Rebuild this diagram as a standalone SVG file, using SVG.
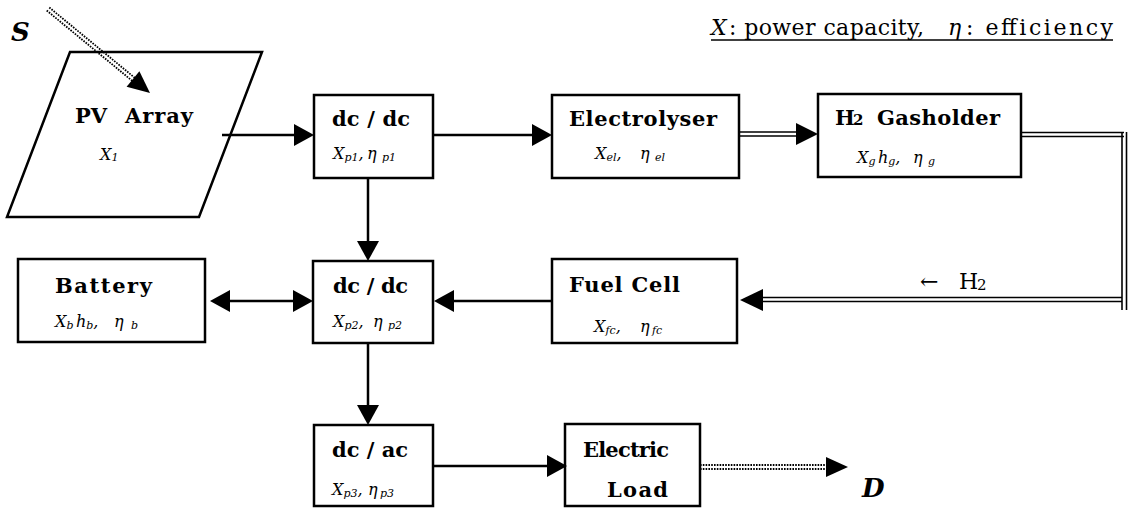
<svg xmlns="http://www.w3.org/2000/svg" width="1132" height="508" viewBox="0 0 1132 508">
<style>
.box{fill:#fff;stroke:#000;stroke-width:2.5}
.ln{stroke:#000;stroke-width:2.5;fill:none}
.dl{stroke:#000;stroke-width:1.6;fill:none}
.dot{stroke:#000;stroke-width:1.8;fill:none;stroke-dasharray:1.6 1.2}
.lbl{font-family:"DejaVu Serif","Liberation Serif",serif;font-weight:bold;font-size:21px}
.sub{font-family:"DejaVu Serif","Liberation Serif",serif;font-style:italic;font-size:16px}
.s{font-size:11px}
.big{font-family:"DejaVu Serif","Liberation Serif",serif;font-weight:bold;font-style:italic;font-size:26px}
.leg{font-family:"DejaVu Serif","Liberation Serif",serif;font-size:22px}
</style>
<defs>
<marker id="ah" markerUnits="userSpaceOnUse" viewBox="0 0 20 22" markerWidth="20" markerHeight="22" refX="0" refY="11" orient="auto-start-reverse">
<path d="M0,0 L20,11 L0,22 z" fill="#000"/>
</marker>
</defs>
<rect width="1132" height="508" fill="#fff"/>

<g id="legend">
<text class="leg" y="35"><tspan x="711" font-style="italic">X</tspan><tspan x="729" textLength="195" lengthAdjust="spacing">: power capacity,</tspan><tspan x="948" font-style="italic">η</tspan><tspan x="966" textLength="147" lengthAdjust="spacing">: efficiency</tspan></text>
<line x1="711" y1="40" x2="1113" y2="40" stroke="#000" stroke-width="1.3"/>
</g>

<g id="source-S">
<text class="big" x="11" y="41">S</text>
</g>

<g id="pv-array">
<polygon class="box" points="70,52 262,52 199,217 7,217"/>
<text class="lbl" y="123"><tspan x="75">PV</tspan><tspan x="125" textLength="68" lengthAdjust="spacing">Array</tspan></text>
<text class="sub" x="100" y="160">X<tspan class="s" dy="1">1</tspan></text>
</g>

<g id="dcdc1">
<rect class="box" x="314" y="95" width="119" height="83"/>
<text class="lbl" x="332" y="126" textLength="78" lengthAdjust="spacing">dc / dc</text>
<text class="sub" y="159"><tspan x="333">X</tspan><tspan class="s" dy="2">p1</tspan><tspan dy="-2">,</tspan><tspan x="367">η</tspan><tspan class="s" dy="2" x="382">p1</tspan></text>
</g>

<g id="electrolyser">
<rect class="box" x="552" y="95" width="187" height="83"/>
<text class="lbl" x="569" y="126" textLength="148" lengthAdjust="spacing">Electrolyser</text>
<text class="sub" y="159"><tspan x="595">X</tspan><tspan class="s" dy="2">el</tspan><tspan dy="-2">,</tspan><tspan x="640">η</tspan><tspan class="s" dy="2" x="655">el</tspan></text>
</g>

<g id="gasholder">
<rect class="box" x="818" y="94" width="203" height="83"/>
<text class="lbl" y="125"><tspan x="835">H</tspan><tspan x="853" font-size="15">2</tspan><tspan x="877" textLength="123" lengthAdjust="spacing">Gasholder</tspan></text>
<text class="sub" y="163"><tspan x="857">X</tspan><tspan class="s" dy="2">g</tspan><tspan dy="-2" x="878">h</tspan><tspan class="s" dy="2">g</tspan><tspan dy="-2">,</tspan><tspan x="913">η</tspan><tspan class="s" dy="2" x="928">g</tspan></text>
</g>

<g id="battery">
<rect class="box" x="18" y="259" width="187" height="83"/>
<text class="lbl" x="55" y="293" textLength="97" lengthAdjust="spacing">Battery</text>
<text class="sub" y="327"><tspan x="55">X</tspan><tspan class="s" dy="2">b</tspan><tspan dy="-2" x="76">h</tspan><tspan class="s" dy="2">b</tspan><tspan dy="-2">,</tspan><tspan x="114">η</tspan><tspan class="s" dy="2" x="131">b</tspan></text>
</g>

<g id="dcdc2">
<rect class="box" x="313" y="261" width="120" height="82"/>
<text class="lbl" x="333" y="293" textLength="75" lengthAdjust="spacing">dc / dc</text>
<text class="sub" y="327"><tspan x="333">X</tspan><tspan class="s" dy="2">p2</tspan><tspan dy="-2">,</tspan><tspan x="373">η</tspan><tspan class="s" dy="2" x="388">p2</tspan></text>
</g>

<g id="fuel-cell">
<rect class="box" x="552" y="259" width="185" height="84"/>
<text class="lbl" x="569" y="292" textLength="111" lengthAdjust="spacing">Fuel Cell</text>
<text class="sub" y="332"><tspan x="594">X</tspan><tspan class="s" dy="2">fc</tspan><tspan dy="-2">,</tspan><tspan x="640">η</tspan><tspan class="s" dy="2" x="652">fc</tspan></text>
</g>

<g id="dcac">
<rect class="box" x="314" y="425" width="119" height="81"/>
<text class="lbl" x="332" y="457" textLength="76" lengthAdjust="spacing">dc / ac</text>
<text class="sub" y="495"><tspan x="332">X</tspan><tspan class="s" dy="2">p3</tspan><tspan dy="-2">,</tspan><tspan x="368">η</tspan><tspan class="s" dy="2" x="380">p3</tspan></text>
</g>

<g id="electric-load">
<rect class="box" x="565" y="424" width="135" height="82"/>
<text class="lbl" x="583" y="457" textLength="86" lengthAdjust="spacing">Electric</text>
<text class="lbl" x="607" y="497" textLength="61" lengthAdjust="spacing">Load</text>
</g>

<g id="demand-D">
<text class="big" x="862" y="497">D</text>
</g>

<g id="connectors">
<line class="dot" x1="46.7" y1="10.5" x2="133" y2="81.5"/>
<line class="dot" x1="49.3" y1="7.5" x2="135.6" y2="78.5"/>
<polygon points="150,93 126.6,86.7 139.4,71.3" fill="#000"/>

<line class="ln" x1="222" y1="135" x2="294" y2="135" marker-end="url(#ah)"/>
<line class="ln" x1="433" y1="135" x2="532" y2="135" marker-end="url(#ah)"/>

<line class="dl" x1="739" y1="132" x2="798" y2="132"/>
<line class="dl" x1="739" y1="136" x2="798" y2="136"/>
<polygon points="796,123 818,134 796,145" fill="#000"/>

<line class="dl" x1="1021" y1="132.5" x2="1124" y2="132.5"/>
<line class="dl" x1="1021" y1="136.5" x2="1124" y2="136.5"/>
<line class="dl" x1="1122" y1="132" x2="1122" y2="310"/>
<line class="dl" x1="1126.5" y1="132" x2="1126.5" y2="310"/>
<line class="dl" x1="760" y1="297.5" x2="1122" y2="297.5"/>
<line class="dl" x1="760" y1="301.5" x2="1122" y2="301.5"/>
<polygon points="740,300 763,289 763,311" fill="#000"/>
<text class="leg" y="289" font-size="21"><tspan x="920">←</tspan><tspan x="959">H</tspan><tspan x="977" font-size="15" dy="1">2</tspan></text>

<line class="ln" x1="368" y1="178" x2="368" y2="241" marker-end="url(#ah)"/>
<line class="ln" x1="230" y1="301" x2="293" y2="301" marker-start="url(#ah)" marker-end="url(#ah)"/>
<line class="ln" x1="552" y1="301" x2="454" y2="301" marker-end="url(#ah)"/>
<line class="ln" x1="368" y1="343" x2="368" y2="405" marker-end="url(#ah)"/>
<line class="ln" x1="433" y1="466" x2="547" y2="466" marker-end="url(#ah)"/>

<line class="dot" x1="700" y1="465" x2="828" y2="465"/>
<line class="dot" x1="700" y1="469" x2="828" y2="469"/>
<polygon points="826,457 848,467 826,477" fill="#000"/>
</g>
</svg>
